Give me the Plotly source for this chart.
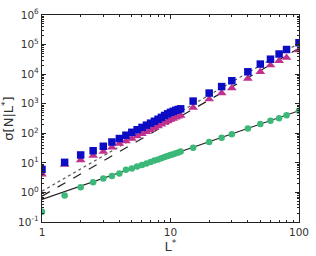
import plotly.graph_objects as go

# ---- data ----
L = [1, 1.5, 2, 2.5, 3, 3.5, 4, 4.5, 5, 5.5, 6, 6.5, 7, 7.5, 8, 8.5, 9, 9.5,
     10, 10.5, 11, 11.5, 12, 15, 20, 25, 30, 40, 50, 60, 70, 80, 100]
blue = [6.0, 10.4, 18.5, 25.7, 36.4, 50.7, 66.5, 86, 108, 132, 158, 188, 220, 255,
        298, 345, 400, 455, 510, 552, 600, 638, 671, 1227, 2290, 3790, 5970,
        12000, 21900, 32000, 48000, 68000, 115000]
magenta = [4.1, 8.7, 12.4, 17.7, 23.9, 33.7, 44.6, 54.6, 66, 80, 95, 112, 130, 151,
           175, 200, 228, 258, 290, 315, 345, 372, 396, 741, 1427, 2290, 3340,
           7080, 12000, 20000, 28300, 36000, 64900]
green = [0.22, 0.78, 1.5, 2.2, 2.97, 3.6, 4.4, 5.8, 6.5, 7.5, 8.5, 9.6, 10.7, 11.9,
         13.1, 14.4, 15.7, 17.0, 18.3, 19.7, 21.2, 22.6, 24.1, 32.2, 50.7, 70,
         92.7, 145.6, 205, 265, 324, 405, 575]

fit_x = [1, 100]
dotted_y = [1.1, 1.1e5]
dashed_y = [0.75, 7.5e4]
solid_y = [0.58, 580]

y_tickvals = [0.1, 1, 10, 100, 1e3, 1e4, 1e5, 1e6]
y_ticktext = ["10<sup>-1</sup>", "10<sup>0</sup>", "10<sup>1</sup>", "10<sup>2</sup>",
              "10<sup>3</sup>", "10<sup>4</sup>", "10<sup>5</sup>", "10<sup>6</sup>"]
x_tickvals = [1, 10, 100]
x_ticktext = ["1", "10", "100"]

x_minor = [m * 10 ** k for k in range(0, 2) for m in range(2, 10)]
y_minor = [m * 10 ** k for k in range(-1, 6) for m in range(2, 10)]

fig = go.Figure()
fig.add_trace(go.Scatter(x=fit_x, y=dotted_y, mode="lines",
                         line=dict(color="#555555", width=1.2, dash="dot")))
fig.add_trace(go.Scatter(x=fit_x, y=dashed_y, mode="lines",
                         line=dict(color="#222222", width=1.2, dash="dash")))
fig.add_trace(go.Scatter(x=fit_x, y=solid_y, mode="lines",
                         line=dict(color="#222222", width=1.2)))
fig.add_trace(go.Scatter(x=L, y=green, mode="markers",
                         marker=dict(symbol="circle", size=6.5, color="#3cb878")))
fig.add_trace(go.Scatter(x=L, y=magenta, mode="markers",
                         marker=dict(symbol="triangle-up", size=8.5, color="#c0308e")))
fig.add_trace(go.Scatter(x=L, y=blue, mode="markers",
                         marker=dict(symbol="square", size=7.5, color="#0c0cc4")))

axis_common = dict(showline=True, linecolor="#222222", linewidth=1.2, mirror="ticks",
                   ticks="inside", ticklen=4, tickcolor="#222222", showgrid=False,
                   zeroline=False, ticklabeloverflow="allow",
                   tickfont=dict(family="DejaVu Sans", size=10.5, color="#333333"))

fig.update_xaxes(type="log", range=[0, 2], tickmode="array", tickvals=x_tickvals,
                 ticktext=x_ticktext,
                 minor=dict(tickmode="array", tickvals=x_minor, ticks="inside",
                            ticklen=2, tickcolor="#222222", showgrid=False),
                 title=dict(text="L<sup>*</sup>", font=dict(family="DejaVu Sans", size=13, color="#333333"),
                            standoff=2),
                 **axis_common)
fig.update_yaxes(type="log", range=[-1, 6], tickmode="array", tickvals=y_tickvals,
                 ticktext=y_ticktext,
                 minor=dict(tickmode="array", tickvals=y_minor, ticks="inside",
                            ticklen=2, tickcolor="#222222", showgrid=False),
                 title=dict(text="σ[N|L<sup>*</sup>]", font=dict(family="DejaVu Sans", size=13, color="#333333"),
                            standoff=2),
                 **axis_common)

fig.update_layout(width=316, height=256, margin=dict(l=38, r=7, t=12, b=30),
                  paper_bgcolor="white", plot_bgcolor="white", showlegend=False)

fig.write_html("out.html")
